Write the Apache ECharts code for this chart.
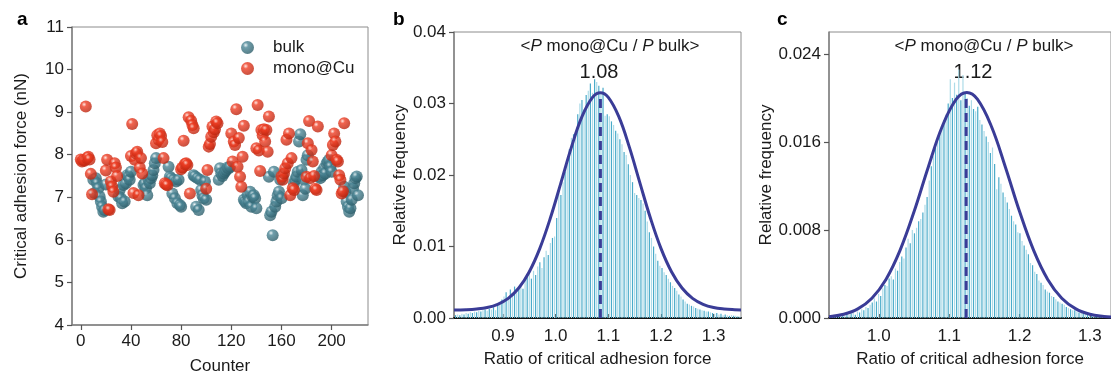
<!DOCTYPE html>
<html>
<head>
<meta charset="utf-8">
<script src="https://cdn.jsdelivr.net/npm/echarts@6/dist/echarts.min.js"></script>
<style>
html,body{margin:0;padding:0;background:#fff;}
#chart{width:1111px;height:374px;}
</style>
</head>
<body>
<div id="chart"></div>
<script>
// ---------------- DATA ----------------
// Panel a: critical adhesion force (nN) vs counter
const bulkCounter = [10,11,12,13,14,15,16,17,18,19,20,
  30,31,32,33,34,35,36,37,38,39,40,
  50,51,52,53,54,55,56,57,58,59,60,
  70,71,72,73,74,75,76,77,78,79,80,
  90,91,92,93,94,95,96,97,98,99,100,
  110,111,112,113,114,115,116,117,118,119,
  130,131,132,133,134,135,136,137,138,139,140,
  150,151,152,153,154,155,156,157,158,159,160,161,
  170,171,172,173,174,175,176,177,178,179,180,181,
  190,191,192,193,194,195,196,197,198,199,200,
  210,211,212,213,214,215,216,217,218,219,220,221];
const bulkForce = [7.41,7.10,7.45,7.33,7.21,7.02,6.90,6.78,6.66,6.70,7.30,
  7.02,7.17,6.98,6.86,7.29,6.90,7.33,7.52,7.49,7.41,7.60,
  7.29,7.33,7.21,7.05,7.41,7.33,7.45,7.52,7.64,7.80,7.92,
  7.72,7.48,7.45,7.09,7.41,6.98,7.37,6.86,7.41,6.82,6.78,
  7.52,7.49,6.78,7.45,6.70,7.41,7.17,7.05,6.98,7.37,6.94,
  7.41,7.68,7.56,7.50,7.56,7.60,7.64,7.70,7.68,7.72,
  6.94,6.90,6.86,7.05,6.90,7.13,6.78,7.02,7.05,6.98,6.74,
  7.48,6.58,6.66,6.11,7.60,6.78,6.90,7.05,7.13,7.41,6.98,7.49,
  7.33,7.41,7.49,7.60,8.31,8.48,7.64,7.05,7.41,7.20,7.88,7.99,
  7.49,7.45,7.60,7.52,7.68,7.56,7.80,7.84,7.88,7.72,7.60,
  7.25,7.13,6.90,6.78,6.66,6.74,6.94,7.21,7.33,7.45,7.49,7.05];
const monoCounter = [0,1,2,3,4,5,6,7,8,9,
  20,21,22,23,24,25,26,27,28,29,
  40,41,42,43,44,45,46,47,48,49,
  60,61,62,63,64,65,66,67,68,69,
  80,81,82,83,84,85,86,87,88,89,90,
  100,101,102,103,104,105,106,107,108,109,
  120,121,122,123,124,125,126,127,128,129,130,
  140,141,142,143,144,145,146,147,148,149,150,
  160,161,162,163,164,165,166,167,168,169,170,
  180,181,182,183,184,185,186,187,188,189,
  200,201,202,203,204,205,206,207,208,209,210];
const monoForce = [7.89,7.84,7.88,7.86,9.13,7.92,7.95,7.89,7.55,7.07,
  7.63,7.88,6.72,6.70,7.37,7.25,7.13,7.80,7.70,7.50,
  7.97,8.72,7.10,7.88,8.03,8.07,7.05,7.70,7.92,7.56,
  8.27,8.46,8.35,8.50,8.44,8.30,7.92,7.33,7.30,7.28,
  7.66,7.70,8.33,7.78,7.80,7.76,8.88,7.09,8.80,8.70,8.62,
  7.20,7.64,8.19,8.25,8.42,8.66,8.53,8.60,8.78,8.74,
  8.50,7.84,8.31,8.23,9.07,7.72,8.39,7.48,7.25,7.95,8.68,
  8.15,9.17,8.10,7.62,8.58,8.46,8.60,8.31,8.58,8.07,8.90,
  7.49,7.41,7.56,7.68,8.35,7.80,8.50,7.05,7.92,7.21,7.17,
  7.48,8.27,8.79,7.45,8.11,7.84,7.50,7.20,7.17,8.66,
  7.99,8.23,8.50,8.31,7.88,7.84,7.52,7.41,7.09,7.14,8.74];
const xTicksA = [0,40,80,120,160,200];

// Panel b: histogram of force ratio (bin width 0.004, first bin centre 0.810)
const histBStart = 0.810, histBWidth = 0.004;
const histB = [
  0.0004,0.0005,0.0004,0.0006,0.0005,0.0007,0.0006,0.0008,0.0007,0.0009,0.0008,
  0.0010,0.0009,0.0011,0.0012,0.0010,0.0013,0.0012,0.0015,0.0011,0.0019,0.0022,0.0026,
  0.0030,0.0036,0.0028,0.0040,0.0034,0.0044,0.0038,0.0043,0.0046,0.0041,0.0052,0.0058,
  0.0062,0.0055,0.0066,0.0060,0.0072,0.0078,0.0070,0.0085,0.0094,0.0088,0.0105,0.0112,0.0114,
  0.0140,0.0178,0.0172,0.0190,0.0205,0.0215,0.0236,0.0252,0.0257,0.0262,0.0285,0.0300,
  0.0305,0.0292,0.0312,0.0318,0.0328,0.0315,0.0334,0.0330,0.0325,0.0315,0.0322,0.0283,0.0285,
  0.0282,0.0275,0.0270,0.0262,0.0258,0.0250,0.0243,0.0232,0.0228,0.0215,0.0200,0.0190,
  0.0175,0.0172,0.0168,0.0165,0.0160,0.0150,0.0135,0.0120,0.0112,0.0100,0.0090,0.0080,0.0073,
  0.0070,0.0064,0.0060,0.0055,0.0050,0.0045,0.0042,0.0038,0.0033,0.0030,0.0026,0.0023,
  0.0020,0.0019,0.0017,0.0016,0.0014,0.0013,0.0012,0.0011,0.0010,0.0009,0.0009,0.0008,0.0007,
  0.0006,0.0007,0.0005,0.0006,0.0004,0.0005,0.0004,0.0003,0.0004,0.0003,0.0003,0.0002,0.0002];
const fitB = [[0.807,0.00112],[0.83,0.00116],[0.85,0.00126],[0.87,0.00147],[0.89,0.00192],[0.91,0.00275],
  [0.93,0.00419],[0.95,0.00647],[0.97,0.00974],[0.99,0.01398],[1.01,0.01890],[1.03,0.02390],
  [1.05,0.02816],[1.07,0.03086],[1.085,0.0315],[1.10,0.03086],[1.12,0.02816],[1.14,0.02390],
  [1.16,0.01890],[1.18,0.01398],[1.20,0.00974],[1.22,0.00647],[1.24,0.00419],[1.26,0.00275],
  [1.28,0.00192],[1.30,0.00147],[1.32,0.00126],[1.34,0.00116],[1.352,0.00113]];
const meanB = 1.085, peakB = 0.0315, meanLabelB = '1.08';
const xTicksB = [0.9,1.0,1.1,1.2,1.3];
const yTicksB = [0,0.01,0.02,0.03,0.04];

// Panel c: histogram of force ratio (bin width 0.003, first bin centre 0.9305)
const histCStart = 0.9305, histCWidth = 0.003;
const histC = [
  0.0001,0.0002,0.0001,0.0002,0.0003,0.0002,0.0003,0.0002,0.0004,0.0003,
  0.0004,0.0005,0.0003,0.0006,0.0005,0.0008,0.0007,0.0010,0.0009,0.0012,
  0.0014,0.0018,0.0015,0.0022,0.0020,0.0027,0.0030,0.0029,0.0036,0.0038,
  0.0035,0.0045,0.0043,0.0051,0.0056,0.0054,0.0064,0.0072,0.0068,0.0080,
  0.0077,0.0082,0.0088,0.0090,0.0096,0.0103,0.0110,0.0125,0.0138,0.0147,
  0.0155,0.0160,0.0168,0.0172,0.0180,0.0185,0.0195,0.0217,0.0200,0.0214,
  0.0203,0.0226,0.0198,0.0221,0.0205,0.0200,0.0193,0.0198,0.0190,0.0188,
  0.0192,0.0180,0.0176,0.0170,0.0165,0.0160,0.0150,0.0155,0.0140,0.0117,
  0.0128,0.0122,0.0114,0.0110,0.0105,0.0099,0.0093,0.0088,0.0085,0.0078,
  0.0077,0.0070,0.0066,0.0062,0.0058,0.0050,0.0048,0.0042,0.0040,0.0034,
  0.0032,0.0030,0.0026,0.0024,0.0023,0.0020,0.0019,0.0017,0.0015,0.0014,
  0.0013,0.0012,0.0010,0.0009,0.0008,0.0007,0.0007,0.0006,0.0005,0.0005,
  0.0004,0.0004,0.0003,0.0004,0.0003,0.0002,0.0003,0.0002,0.0002,0.0001,0.0002,0.0001,0.0001,0.0001];
const fitC = [[0.929,0.00012],[0.95,0.00034],[0.97,0.00083],[0.99,0.00180],[1.01,0.00351],[1.03,0.00615],
  [1.05,0.00968],[1.07,0.01369],[1.09,0.01741],[1.11,0.01989],[1.125,0.0205],[1.14,0.01989],
  [1.16,0.01741],[1.18,0.01369],[1.20,0.00968],[1.22,0.00615],[1.24,0.00351],[1.26,0.00180],
  [1.28,0.00083],[1.30,0.00034],[1.32,0.00013],[1.33,0.00008]];
const meanC = 1.124, peakC = 0.0205, meanLabelC = '1.12';
const xTicksC = [1.0,1.1,1.2,1.3];
const yTicksC = [0,0.008,0.016,0.024];

// ---------------- CHART ----------------
const FONT = "'Liberation Sans', Arial, Helvetica, sans-serif";
const TXT = '#1a1a1a';
const chart = echarts.init(document.getElementById('chart'), null, {renderer:'canvas'});

function ball(hi, base, dark){
  return new echarts.graphic.RadialGradient(0.36, 0.32, 0.72, [
    {offset:0, color:hi},{offset:0.28, color:base},{offset:1, color:dark}]);
}
const tealFill = ball('#e9f2f4', '#4b8696', '#2c5c68');
const redFill  = ball('#ffe3dc', '#ee3d23', '#b8230d');

function zip(a,b){ return a.map((v,i)=>[v,b[i]]); }
function histItems(start, w, vals){
  return vals.map((v,i)=>({value:[start + i*w, v],
    itemStyle:{color: i%2 ? '#addbe8' : '#4aabc9'}}));
}

const axisName = {fontSize:17, color:TXT, fontFamily:FONT};
const lab = {fontSize:17, color:TXT, fontFamily:FONT};

function xAxisBase(grid, min, max, ticks, fmt, inside, name, lineColor, lineWidth, margin, gap){
  return {type:'value', gridIndex:grid, min:min, max:max,
    axisLine:{show:true, onZero:false, lineStyle:{color:lineColor, width:lineWidth}},
    axisTick:{show:true, inside:inside, length:inside?4:5, customValues:ticks, lineStyle:{color:'#555', width:1.2}},
    axisLabel:Object.assign({customValues:ticks, margin:margin, formatter:fmt}, lab),
    splitLine:{show:false},
    name:name, nameLocation:'middle', nameGap:gap, nameTextStyle:axisName};
}
function yAxisBase(grid, min, max, ticks, fmt, name, gap){
  return {type:'value', gridIndex:grid, min:min, max:max,
    axisLine:{show:true, onZero:false, lineStyle:{color:'#808080', width:1.5}},
    axisTick:{show:true, inside:false, length:5, customValues:ticks, lineStyle:{color:'#555', width:1.2}},
    axisLabel:Object.assign({customValues:ticks, margin:8, formatter:fmt}, lab),
    splitLine:{show:false},
    name:name, nameLocation:'middle', nameGap:gap, nameTextStyle:axisName};
}

const richP = {i:{fontStyle:'italic', fontSize:17, fontFamily:FONT, fill:TXT, color:TXT}};
const gridBase = {show:true, borderColor:'#8c8c8c', borderWidth:1, containLabel:false, outerBoundsMode:'none'};

const option = {
  backgroundColor:'#ffffff',
  animation:false,
  textStyle:{fontFamily:FONT},
  grid:[
    Object.assign({left:72, top:27, width:296, height:298}, gridBase),
    Object.assign({left:454, top:32, width:287, height:286}, gridBase),
    Object.assign({left:829, top:32, width:282, height:286}, gridBase)
  ],
  xAxis:[
    xAxisBase(0, -7, 229, xTicksA, v=>String(v), false, 'Counter', '#808080', 1.5, 8, 33),
    xAxisBase(1, 0.807, 1.352, xTicksB, v=>v.toFixed(1), true, 'Ratio of critical adhesion force', '#111', 2, 10, 33),
    xAxisBase(2, 0.929, 1.330, xTicksC, v=>v.toFixed(1), true, 'Ratio of critical adhesion force', '#111', 2, 10, 33)
  ],
  yAxis:[
    yAxisBase(0, 4, 11, [4,5,6,7,8,9,10,11], v=>String(v), 'Critical adhesion force (nN)', 42),
    yAxisBase(1, 0, 0.04, yTicksB, v=>v.toFixed(2), 'Relative frequency', 45),
    yAxisBase(2, 0, 0.026, yTicksC, v=>v.toFixed(3), 'Relative frequency', 47)
  ],
  legend:{
    data:['bulk','mono@Cu'], orient:'vertical', left:236, top:34,
    itemWidth:13, itemHeight:13, itemGap:4, icon:'circle',
    textStyle:{fontSize:17, color:TXT, fontFamily:FONT, padding:[0,0,0,14]},
    selectedMode:false
  },
  series:[
    {name:'bulk', type:'scatter', xAxisIndex:0, yAxisIndex:0, symbolSize:12,
     itemStyle:{color:tealFill}, data:zip(bulkCounter,bulkForce), z:3},
    {name:'mono@Cu', type:'scatter', xAxisIndex:0, yAxisIndex:0, symbolSize:12,
     itemStyle:{color:redFill}, data:zip(monoCounter,monoForce), z:4},

    {type:'bar', xAxisIndex:1, yAxisIndex:1, barWidth:1.2, data:histItems(histBStart,histBWidth,histB), z:2},
    {type:'line', xAxisIndex:1, yAxisIndex:1, data:fitB, smooth:0.4, showSymbol:false, symbol:'none',
     lineStyle:{color:'#3a3c97', width:3}, z:5},
    {type:'line', xAxisIndex:1, yAxisIndex:1, data:[[meanB,0],[meanB,peakB]], showSymbol:false, symbol:'none',
     lineStyle:{color:'#3a3c97', width:3, type:[9,5]}, z:6},

    {type:'bar', xAxisIndex:2, yAxisIndex:2, barWidth:1.2, data:histItems(histCStart,histCWidth,histC), z:2},
    {type:'line', xAxisIndex:2, yAxisIndex:2, data:fitC, smooth:0.4, showSymbol:false, symbol:'none',
     lineStyle:{color:'#3a3c97', width:3}, z:5},
    {type:'line', xAxisIndex:2, yAxisIndex:2, data:[[meanC,0],[meanC,peakC]], showSymbol:false, symbol:'none',
     lineStyle:{color:'#3a3c97', width:3, type:[9,5]}, z:6}
  ],
  graphic:[
    {type:'text', x:17, y:10, style:{text:'a', fontSize:19, fontWeight:'bold', fontFamily:FONT, fill:'#000'}},
    {type:'text', x:393, y:10, style:{text:'b', fontSize:19, fontWeight:'bold', fontFamily:FONT, fill:'#000'}},
    {type:'text', x:777, y:10, style:{text:'c', fontSize:19, fontWeight:'bold', fontFamily:FONT, fill:'#000'}},
    {type:'text', x:610, y:46, style:{text:'<{i|P} mono@Cu / {i|P} bulk>', rich:richP, fontSize:17, fontFamily:FONT, fill:TXT, align:'center', verticalAlign:'middle'}},
    {type:'text', x:599, y:72, style:{text:meanLabelB, fontSize:20, fontFamily:FONT, fill:TXT, align:'center', verticalAlign:'middle'}},
    {type:'text', x:984, y:46, style:{text:'<{i|P} mono@Cu / {i|P} bulk>', rich:richP, fontSize:17, fontFamily:FONT, fill:TXT, align:'center', verticalAlign:'middle'}},
    {type:'text', x:973, y:72, style:{text:meanLabelC, fontSize:20, fontFamily:FONT, fill:TXT, align:'center', verticalAlign:'middle'}}
  ]
};
chart.setOption(option);
</script>
</body>
</html>
